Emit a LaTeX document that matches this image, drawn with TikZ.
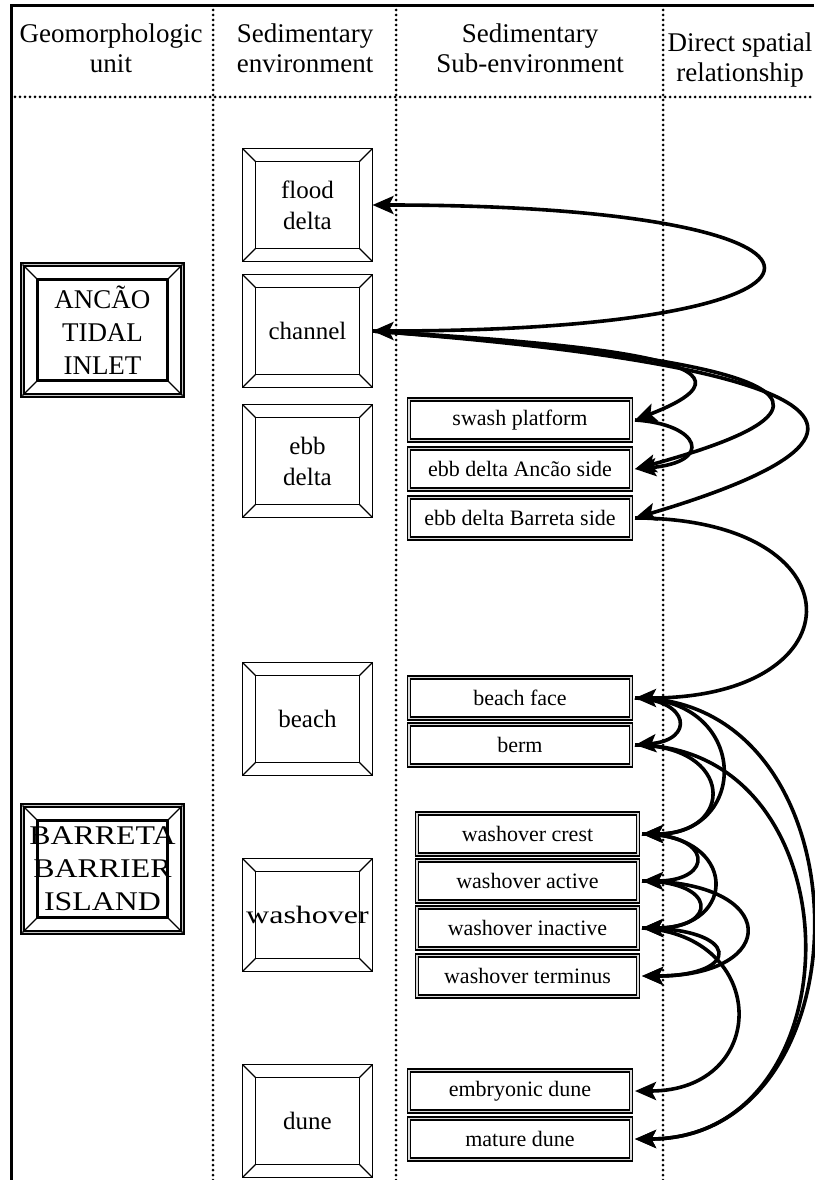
\documentclass[tikz,border=0pt]{standalone}
\usepackage{fontspec}
\setmainfont{Liberation Serif}
\usepackage{graphicx}
\usetikzlibrary{arrows.meta,calc}
\tikzset{
  reltip/.tip={Stealth[length=21pt,width=18pt,inset=4.5pt]},
  hdr/.style={align=center, font=\fontsize{27}{30}\selectfont},
  unitbox/.style={draw, line width=2.2pt, double=gray!45, double distance=1.2pt, minimum width=160pt, minimum height=131pt, align=center, inner sep=0pt, outer sep=0pt, font=\fontsize{27}{33}\selectfont},
  envbox/.style={draw, line width=1.5pt, minimum width=130pt, minimum height=113pt, align=center, inner sep=0pt, outer sep=0pt, font=\fontsize{25}{31}\selectfont},
  subbox/.style={draw, line width=1.6pt, double=gray!30, double distance=1.6pt, minimum width=222pt, minimum height=41pt, inner sep=0pt, outer sep=4pt, font=\fontsize{22}{26}\selectfont},
  washbox/.style={subbox, minimum width=221pt},
  rel/.style={line width=3.6pt, -reltip},
  relboth/.style={rel, reltip-reltip},
  sepline/.style={line width=3pt, dash pattern=on 0pt off 5pt, line cap=round},
}
% bevelled frame round a node: node, inset, line width
\newcommand{\bevel}[3]{%
  \draw[line width=#3] ($(#1.south west)+(#2,#2)$) rectangle ($(#1.north east)-(#2,#2)$);
  \draw[line width=1.3pt] (#1.south west) -- ++(#2,#2) (#1.north west) -- ++(#2,-#2)
    (#1.north east) -- ++(-#2,-#2) (#1.south east) -- ++(-#2,#2);
}
\newcommand{\stretched}[2]{\scalebox{#1}[1]{#2}}

\begin{document}
\begin{tikzpicture}[x=1pt, y=1pt]
  \useasboundingbox (0,0) rectangle (814,-1180);

  % frame and column separators
  \draw[line width=3pt] (11,-1180) -- (11,-6) -- (814,-6);
  \foreach \xcol in {213,396,663}
    \draw[sepline] (\xcol,-10) -- (\xcol,-1180);
  \draw[sepline] (15,-97) -- (814,-97);

  % headings
  \node[hdr] (hunit) at (111,-48) {Geomorphologic\\unit};
  \node[hdr] (henv)  at (305,-48) {Sedimentary\\environment};
  \node[hdr] (hsub)  at (530,-48) {Sedimentary\\Sub-environment};
  \node[hdr] (hrel)  at (740,-60) {Direct spatial\\relationship};

  % geomorphologic units
  \node[unitbox] (ancao) at (102.5,-330) {ANCÃO\\TIDAL\\INLET};
  \bevel{ancao}{15}{3pt}
  \node[unitbox, minimum height=127pt] (barreta) at (102.5,-869)
    {\stretched{1.18}{BARRETA}\\\stretched{1.18}{BARRIER}\\\stretched{1.18}{ISLAND}};
  \bevel{barreta}{15}{3pt}

  % sedimentary environments
  \node[envbox] (flood)    at (307.5,-205)  {flood\\delta};
  \node[envbox] (channel)  at (307.5,-331)  {channel};
  \node[envbox] (ebb)      at (307.5,-461)  {ebb\\delta};
  \node[envbox] (beach)    at (307.5,-719)  {beach};
  \node[envbox] (washover) at (307.5,-915)  {\stretched{1.28}{washover}};
  \node[envbox] (dune)     at (307.5,-1121) {dune};
  \foreach \env in {flood,channel,ebb,beach,washover,dune}{
    \bevel{\env}{13}{1.5pt}
  }

  % sub-environments
  \node[subbox]  (swash)    at (520,-420)    {swash platform};
  \node[subbox]  (ebbA)     at (520,-469)    {ebb delta Ancão side};
  \node[subbox]  (ebbB)     at (520,-518)    {ebb delta Barreta side};
  \node[subbox]  (face)     at (520,-698)    {beach face};
  \node[subbox]  (berm)     at (520,-745)    {berm};
  \node[washbox] (crest)    at (527.5,-834)  {washover crest};
  \node[washbox] (active)   at (527.5,-881)  {washover active};
  \node[washbox] (inactive) at (527.5,-928)  {washover inactive};
  \node[washbox] (terminus) at (527.5,-976)  {washover terminus};
  \node[subbox]  (embryo)   at (520,-1091)   {embryonic dune};
  \node[subbox]  (mature)   at (520,-1139)   {mature dune};

  % direct spatial relationships
  \draw[relboth] (channel.east) .. controls (890,-331) and (890,-205) .. (flood.east);
  \draw[rel] (channel.east) .. controls (600,-345) and (785,-362) .. (swash.east);
  \draw[rel] (channel.east) .. controls (630,-350) and (955,-382) .. (ebbA.east);
  \draw[rel] (channel.east) .. controls (650,-352) and (1025,-402) .. (ebbB.east);
  \draw[rel] (swash.east) .. controls (700,-424) and (715,-462) .. (ebbA.east);
  \draw[rel] (ebbB.east) .. controls (861,-518) and (861,-698) .. (face.east);
  \draw[rel] (face.east) .. controls (690,-700) and (695,-740) .. (berm.east);
  \draw[rel] (face.east) .. controls (750,-698) and (750,-834) .. (crest.east);
  \draw[rel] (berm.east) .. controls (735,-745) and (735,-834) .. (crest.east);
  \draw[rel] (face.east) .. controls (872,-698) and (872,-1139) .. (mature.east);
  \draw[rel] (berm.east) .. controls (860,-745) and (860,-1139) .. (mature.east);
  \draw[rel] (crest.east) .. controls (714,-834) and (714,-881) .. (active.east);
  \draw[rel] (crest.east) .. controls (738,-834) and (738,-928) .. (inactive.east);
  \draw[rel] (active.east) .. controls (718,-881) and (718,-928) .. (inactive.east);
  \draw[rel] (active.east) .. controls (781,-881) and (781,-976) .. (terminus.east);
  \draw[rel] (inactive.east) .. controls (742,-928) and (742,-976) .. (terminus.east);
  \draw[rel] (inactive.east) .. controls (770,-935) and (770,-1091) .. (embryo.east);
\end{tikzpicture}
\end{document}
